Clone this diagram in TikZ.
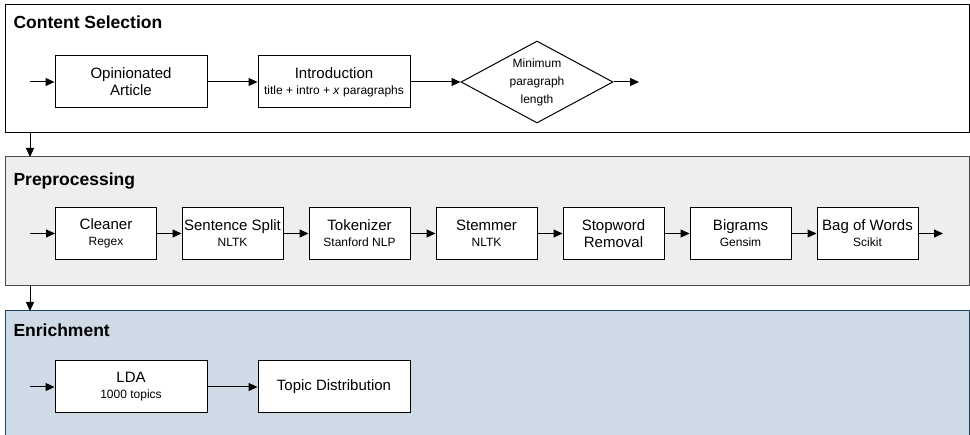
\documentclass[tikz,border=0pt]{standalone}
\usepackage{fontspec}
\setmainfont{Liberation Sans}
\usetikzlibrary{shapes.geometric,arrows.meta}
\definecolor{grayfill}{HTML}{EEEEEE}
\definecolor{graystroke}{HTML}{4A4A4A}
\definecolor{bluefill}{HTML}{CEDBE7}
\definecolor{bluestroke}{HTML}{23445D}
\newcommand{\subtxt}[1]{{\fontsize{12}{14}\selectfont #1}}
\begin{document}
\begin{tikzpicture}[x=1pt,y=-1pt,
  box/.style={draw=black,fill=white,line width=1pt,minimum width=#1,minimum height=52pt,inner sep=0pt,align=center,font=\fontsize{15}{17}\selectfont},
  box/.default=152pt,
  sbox/.style={box=101pt},
  dia/.style={draw=black,fill=white,line width=1pt,diamond,aspect=1.85,minimum width=152pt,minimum height=82pt,inner sep=0pt,align=center,font=\fontsize{12}{18}\selectfont},
  arr/.style={-{Triangle[length=9pt,width=8pt]},line width=1pt},
  title/.style={anchor=west,font=\fontsize{17.5}{20}\selectfont\bfseries}]
\useasboundingbox (0,0) rectangle (970,435);
% panels
\draw[line width=1pt,draw=black,fill=white] (5,5) rectangle (969,133);
\node[title] (t1) at (10,22) {Content Selection};
\draw[line width=1pt,draw=graystroke,fill=grayfill] (5,157) rectangle (969,286);
\node[title] (t2) at (10,181) {Preprocessing};
\fill[bluefill] (5,311) rectangle (969,436);
\draw[line width=1pt,draw=bluestroke] (5,436) -- (5,311) -- (969,311) -- (969,436);
\node[title] (t3) at (10,330) {Enrichment};
% panel connectors
\coordinate (p1) at (30,133);
\coordinate (p2) at (30,157);
\coordinate (p3) at (30,286);
\coordinate (p4) at (30,311);
\draw[arr] (p1) -- (p2);
\draw[arr] (p3) -- (p4);
% content selection
\coordinate (in1) at (30,82);
\node[box] (oa) at (131,82) {Opinionated\\Article};
\node[box] (intro) at (334,82) {Introduction\\[-1pt]\subtxt{title + intro + \textit{x} paragraphs}};
\node[dia] (mpl) at (537,82) {Minimum\\paragraph\\length};
\coordinate (out1) at (639,82);
\draw[arr] (in1) -- (oa);
\draw[arr] (oa) -- (intro);
\draw[arr] (intro) -- (mpl);
\draw[arr] (mpl) -- (out1);
% preprocessing
\coordinate (in2) at (30,233.5);
\node[sbox] (cl) at (106,233.5) {Cleaner\\[-1pt]\subtxt{Regex}};
\node[sbox] (ss) at (232.5,233.5) {Sentence Split\\[-1pt]\subtxt{NLTK}};
\node[sbox] (tk) at (359.5,233.5) {Tokenizer\\[-1pt]\subtxt{Stanford NLP}};
\node[sbox] (st) at (486.5,233.5) {Stemmer\\[-1pt]\subtxt{NLTK}};
\node[sbox] (sw) at (613.5,233.5) {Stopword\\Removal};
\node[sbox] (bg) at (740.5,233.5) {Bigrams\\[-1pt]\subtxt{Gensim}};
\node[sbox] (bw) at (867.5,233.5) {Bag of Words\\[-1pt]\subtxt{Scikit}};
\coordinate (out2) at (943,233.5);
\draw[arr] (in2) -- (cl);
\draw[arr] (cl) -- (ss);
\draw[arr] (ss) -- (tk);
\draw[arr] (tk) -- (st);
\draw[arr] (st) -- (sw);
\draw[arr] (sw) -- (bg);
\draw[arr] (bg) -- (bw);
\draw[arr] (bw) -- (out2);
% enrichment
\coordinate (in3) at (30,387);
\node[box] (lda) at (131,387) {LDA\\[-1pt]\subtxt{1000 topics}};
\node[box] (td) at (334,387) {Topic Distribution};
\draw[arr] (in3) -- (lda);
\draw[arr] (lda) -- (td);
\end{tikzpicture}
\end{document}
